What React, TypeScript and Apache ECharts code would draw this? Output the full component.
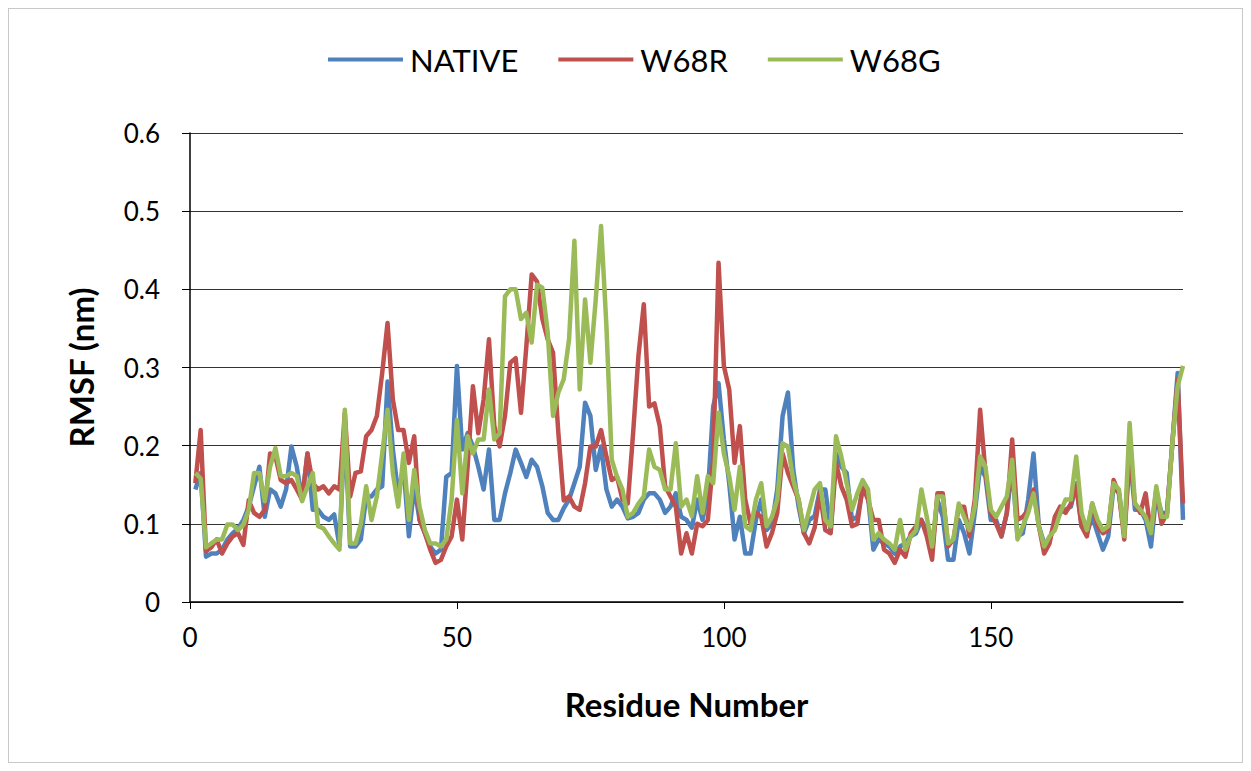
import React, { useEffect, useRef } from "react";
import * as echarts from "echarts";

const seriesNames = ["NATIVE", "W68R", "W68G"];
const seriesColors = ["#4F81BD", "#C0504D", "#9BBB59"];
const xTickValues = [0, 50, 100, 150];

const nativeValues = [
  0.144, 0.165, 0.058, 0.062, 0.062, 0.067, 0.08, 0.088, 0.094, 0.105,
  0.122, 0.148, 0.173, 0.109, 0.144, 0.139, 0.122, 0.144, 0.199, 0.173,
  0.131, 0.19, 0.118, 0.118, 0.109, 0.105, 0.112, 0.072, 0.225, 0.071,
  0.071, 0.08, 0.135, 0.135, 0.144, 0.148, 0.282, 0.195, 0.139, 0.173,
  0.084, 0.148, 0.105, 0.088, 0.071, 0.062, 0.067, 0.16, 0.165, 0.302,
  0.195, 0.216, 0.199, 0.173, 0.144, 0.195, 0.105, 0.105, 0.139, 0.165,
  0.195, 0.178, 0.16, 0.182, 0.173, 0.148, 0.114, 0.105, 0.105, 0.12,
  0.131, 0.152, 0.173, 0.255, 0.238, 0.169, 0.199, 0.144, 0.122, 0.131,
  0.122, 0.107, 0.109, 0.114, 0.131, 0.139, 0.139, 0.131, 0.114, 0.122,
  0.139, 0.109, 0.105, 0.095, 0.131, 0.105, 0.139, 0.25, 0.28, 0.208,
  0.152, 0.08, 0.109, 0.062, 0.062, 0.105, 0.131, 0.092, 0.1, 0.144,
  0.238, 0.268, 0.169, 0.122, 0.088, 0.105, 0.11, 0.144, 0.144, 0.092,
  0.19, 0.173, 0.165, 0.105, 0.109, 0.144, 0.135, 0.067, 0.08, 0.075,
  0.071, 0.062, 0.071, 0.075, 0.084, 0.088, 0.105, 0.092, 0.067, 0.131,
  0.109, 0.054, 0.054, 0.105, 0.088, 0.062, 0.114, 0.173, 0.16, 0.105,
  0.105, 0.084, 0.114, 0.173, 0.084, 0.088, 0.131, 0.19, 0.097, 0.075,
  0.08, 0.1, 0.114, 0.118, 0.122, 0.152, 0.097, 0.088, 0.109, 0.088,
  0.067, 0.084, 0.148, 0.139, 0.088, 0.19, 0.118, 0.118, 0.105, 0.071,
  0.139, 0.114, 0.114, 0.203, 0.293, 0.105,
];

const w68rValues = [
  0.152, 0.22, 0.065, 0.07, 0.08, 0.062, 0.075, 0.084, 0.088, 0.073,
  0.13, 0.114, 0.109, 0.118, 0.19, 0.186, 0.156, 0.152, 0.156, 0.144,
  0.131, 0.19, 0.152, 0.144, 0.148, 0.139, 0.148, 0.144, 0.242, 0.135,
  0.165, 0.167, 0.212, 0.22, 0.238, 0.293, 0.357, 0.259, 0.22, 0.22,
  0.178, 0.212, 0.105, 0.088, 0.067, 0.05, 0.054, 0.071, 0.084, 0.131,
  0.08, 0.173, 0.276, 0.216, 0.259, 0.336, 0.225, 0.199, 0.238, 0.306,
  0.312, 0.242, 0.327, 0.419, 0.41, 0.362, 0.336, 0.319, 0.216, 0.13,
  0.135, 0.122, 0.118, 0.152, 0.199, 0.199, 0.22, 0.186, 0.156, 0.16,
  0.131, 0.126, 0.216, 0.315, 0.381, 0.25, 0.254, 0.225, 0.148, 0.135,
  0.122, 0.062, 0.088, 0.062, 0.1, 0.097, 0.105, 0.182, 0.434, 0.302,
  0.272, 0.178, 0.225, 0.131, 0.1, 0.114, 0.109, 0.071, 0.088, 0.114,
  0.19, 0.165, 0.148, 0.131, 0.088, 0.075, 0.095, 0.139, 0.092, 0.088,
  0.178, 0.148, 0.131, 0.097, 0.1, 0.148, 0.131, 0.105, 0.105, 0.067,
  0.062, 0.05, 0.067, 0.058, 0.088, 0.097, 0.105, 0.084, 0.054, 0.139,
  0.139, 0.071, 0.08, 0.122, 0.122, 0.084, 0.131, 0.246, 0.165, 0.114,
  0.1, 0.084, 0.114, 0.208, 0.105, 0.109, 0.118, 0.144, 0.097, 0.062,
  0.075, 0.109, 0.122, 0.114, 0.126, 0.148, 0.097, 0.084, 0.126, 0.097,
  0.088, 0.092, 0.156, 0.139, 0.08, 0.19, 0.126, 0.114, 0.139, 0.088,
  0.144, 0.1, 0.114, 0.203, 0.285, 0.126,
];

const w68gValues = [
  0.165, 0.158, 0.07, 0.075, 0.08, 0.08, 0.099, 0.099, 0.092, 0.099,
  0.118, 0.165, 0.165, 0.129, 0.173, 0.197, 0.161, 0.161, 0.165, 0.161,
  0.129, 0.148, 0.165, 0.097, 0.094, 0.084, 0.075, 0.067, 0.246, 0.075,
  0.075, 0.1, 0.148, 0.105, 0.135, 0.19, 0.246, 0.165, 0.122, 0.19,
  0.105, 0.169, 0.122, 0.092, 0.075, 0.075, 0.071, 0.08, 0.131, 0.233,
  0.139, 0.212, 0.19, 0.208, 0.208, 0.272, 0.208, 0.216, 0.391, 0.4,
  0.4, 0.362, 0.37, 0.332, 0.406, 0.402, 0.345, 0.238, 0.268, 0.285,
  0.336, 0.462, 0.272, 0.387, 0.306, 0.387, 0.481, 0.353, 0.182, 0.16,
  0.144, 0.109, 0.114, 0.126, 0.135, 0.195, 0.173, 0.169, 0.144, 0.144,
  0.203, 0.122, 0.131, 0.11, 0.161, 0.114, 0.161, 0.152, 0.242, 0.19,
  0.161, 0.118, 0.173, 0.097, 0.092, 0.131, 0.152, 0.097, 0.109, 0.131,
  0.203, 0.199, 0.156, 0.131, 0.092, 0.118, 0.144, 0.152, 0.105, 0.097,
  0.212, 0.186, 0.152, 0.118, 0.139, 0.156, 0.144, 0.08, 0.088, 0.08,
  0.075, 0.067, 0.105, 0.067, 0.084, 0.092, 0.144, 0.109, 0.071, 0.135,
  0.135, 0.075, 0.08, 0.126, 0.109, 0.092, 0.122, 0.186, 0.173, 0.118,
  0.109, 0.122, 0.135, 0.182, 0.08, 0.097, 0.114, 0.139, 0.097, 0.071,
  0.084, 0.092, 0.114, 0.131, 0.131, 0.186, 0.114, 0.092, 0.126, 0.105,
  0.092, 0.097, 0.152, 0.144, 0.084, 0.229, 0.126, 0.118, 0.109, 0.088,
  0.148, 0.109, 0.109, 0.203, 0.276, 0.302,
];

const allValues = [nativeValues, w68rValues, w68gValues];

export default function App() {
  const ref = useRef<HTMLDivElement>(null);

  useEffect(() => {
    if (!ref.current) return;
    const chart = echarts.init(ref.current, undefined, { renderer: "svg" });
    const font = "Lato, 'Open Sans', sans-serif";
    chart.setOption({
      animation: false,
      textStyle: { fontFamily: font, color: "#000" },
      legend: {
        data: seriesNames,
        left: 314,
        top: 30,
        icon: "rect",
        itemWidth: 75,
        itemHeight: 4,
        itemGap: 40,
        textStyle: { fontFamily: font, fontSize: 31, color: "#000", padding: [0, 0, 0, 2] },
      },
      grid: { left: 181, right: 59, top: 124, bottom: 160, containLabel: false },
      xAxis: {
        type: "value",
        min: 0,
        max: 186,
        interval: 50,
        name: "Residue Number",
        nameLocation: "middle",
        nameGap: 85,
        nameTextStyle: { fontFamily: font, fontSize: 33, fontWeight: "bold", color: "#000" },
        axisLine: { show: true, lineStyle: { color: "#000", width: 1.5 } },
        axisTick: { show: true, length: 7, lineStyle: { color: "#000" }, customValues: xTickValues },
        axisLabel: { fontFamily: font, fontSize: 26, color: "#000", margin: 22, customValues: xTickValues },
        splitLine: { show: false },
      },
      yAxis: {
        type: "value",
        min: 0,
        max: 0.6,
        interval: 0.1,
        name: "RMSF (nm)",
        nameLocation: "middle",
        nameRotate: 90,
        nameGap: 93,
        nameTextStyle: { fontFamily: font, fontSize: 33, fontWeight: "bold", color: "#000" },
        axisLine: { show: true, lineStyle: { color: "#000", width: 1.5 } },
        axisTick: { show: true, length: 8, lineStyle: { color: "#000" } },
        axisLabel: { fontFamily: font, fontSize: 26, color: "#000", margin: 30, formatter: (v: number) => String(Math.round(v * 10) / 10) },
        splitLine: { show: true, lineStyle: { color: "#333", width: 1.2 } },
      },
      series: seriesNames.map((name, i) => ({
        name,
        type: "line",
        symbol: "none",
        data: allValues[i].map((v, j) => [j + 1, v]),
        lineStyle: { color: seriesColors[i], width: 4.5, join: "round" },
        itemStyle: { color: seriesColors[i] },
        z: 2 + i,
      })),
    });
    return () => chart.dispose();
  }, []);

  return (
    <div
      ref={ref}
      style={{ width: 1235, height: 755, border: "1px solid #c8c8c8", boxSizing: "border-box" }}
    />
  );
}
